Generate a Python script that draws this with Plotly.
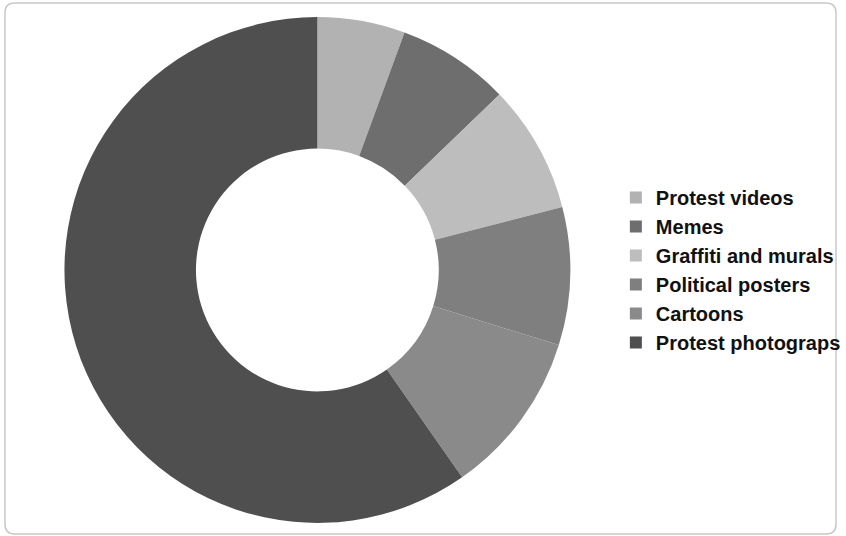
import plotly.graph_objects as go

categories = ["Protest videos", "Memes", "Graffiti and murals", "Political posters", "Cartoons", "Protest photograps"]
values = [5.6, 7.2, 8.2, 8.8, 10.5, 59.7]
colors = ["#b2b2b2", "#6e6e6e", "#bdbdbd", "#7f7f7f", "#8a8a8a", "#4f4f4f"]

W, H = 846, 536
fig = go.Figure(go.Pie(
    labels=categories, values=values, sort=False, direction="clockwise", rotation=0,
    hole=0.48, textinfo="none", hoverinfo="label+percent",
    marker=dict(colors=colors, line=dict(width=0)),
    domain=dict(x=[65/W, 575/W], y=[1-525/H, 1-15/H]),
))

fig.update_layout(
    width=W, height=H, margin=dict(l=0, r=0, t=0, b=0),
    paper_bgcolor="white", plot_bgcolor="white",
    showlegend=True,
    legend=dict(x=621/W, y=1-270/H, xanchor="left", yanchor="middle",
                font=dict(family="Liberation Sans, Arial, sans-serif", size=20, color="#111111", weight="bold"),
                itemwidth=30, tracegroupgap=0, bgcolor="rgba(0,0,0,0)"),
    shapes=[dict(type="path", xref="paper", yref="paper", layer="below",
                 path=f"M {5/W},{1-13/H} Q {5/W},{1-3/H} {15/W},{1-3/H} L {833/W},{1-3/H} "
                      f"Q {843/W},{1-3/H} {843/W},{1-13/H} L {843/W},{1-524/H} "
                      f"Q {843/W},{1-534/H} {833/W},{1-534/H} L {15/W},{1-534/H} "
                      f"Q {5/W},{1-534/H} {5/W},{1-524/H} Z",
                 line=dict(color="#c8c8c8", width=1.5))],
)

fig.write_html("out.html", config={"displayModeBar": False},
               post_script="document.body.style.margin='0';document.body.style.overflow='hidden';")
